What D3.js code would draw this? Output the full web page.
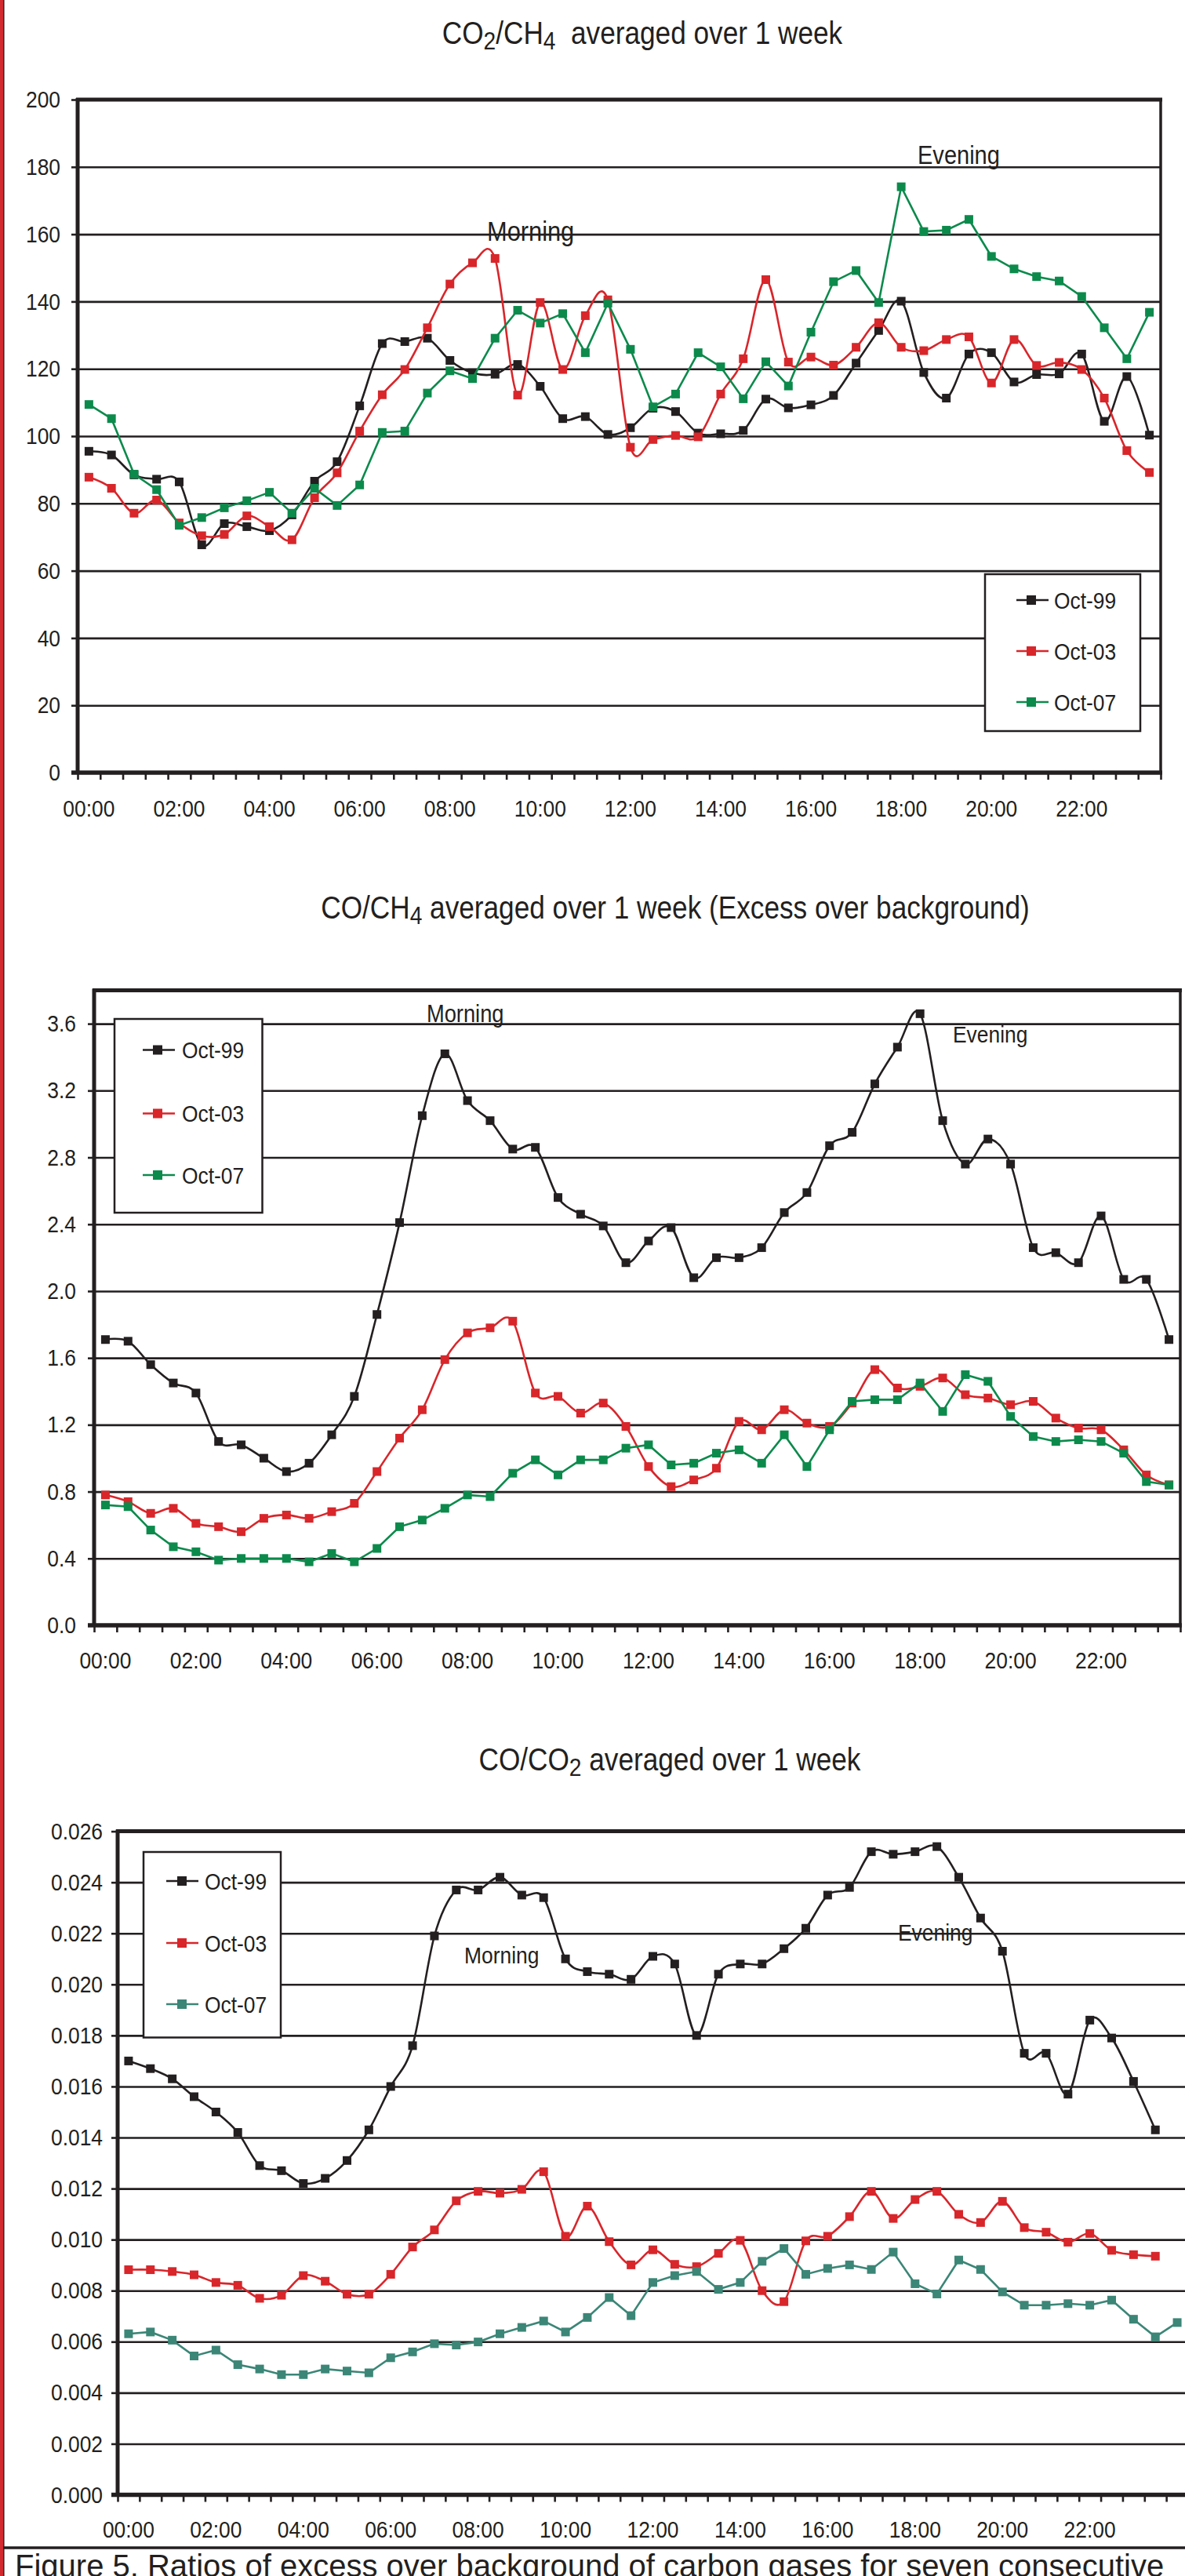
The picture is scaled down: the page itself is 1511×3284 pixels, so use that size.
<!DOCTYPE html>
<html>
<head>
<meta charset="utf-8">
<script src="https://cdn.jsdelivr.net/npm/d3@7"></script>
<style>
  body { margin: 0; background: #fff; }
  text { font-family: "Liberation Sans", Arial, Helvetica, sans-serif; fill: #231f20; }
</style>
</head>
<body>
<div id="fig"></div>
<script>
// half-hour categories (the CO/CO2 Oct-07 series has one extra point)
const times = ["00:00","00:30","01:00","01:30","02:00","02:30","03:00","03:30","04:00","04:30",
  "05:00","05:30","06:00","06:30","07:00","07:30","08:00","08:30","09:00","09:30",
  "10:00","10:30","11:00","11:30","12:00","12:30","13:00","13:30","14:00","14:30",
  "15:00","15:30","16:00","16:30","17:00","17:30","18:00","18:30","19:00","19:30",
  "20:00","20:30","21:00","21:30","22:00","22:30","23:00","23:30","24:00"];
const tickLabels = ["00:00","02:00","04:00","06:00","08:00","10:00","12:00","14:00","16:00","18:00","20:00","22:00"];
const seriesNames = ["Oct-99", "Oct-03", "Oct-07"];

// CO2/CH4
const co2ch4Ticks = [0, 20, 40, 60, 80, 100, 120, 140, 160, 180, 200];
const co2ch4_oct99 = [95.5, 94.4, 88.5, 87.2, 86.4, 67.7, 74.0, 73.1, 71.9, 76.6, 86.6, 92.4, 109.0, 127.5, 128.1, 129.1,
  122.5, 118.8, 118.4, 121.3, 114.8, 105.2, 105.8, 100.5, 102.5, 108.3, 107.3, 100.9, 100.7, 101.7, 111.0, 108.4,
  109.3, 112.1, 121.7, 131.4, 140.1, 118.9, 111.3, 124.4, 124.8, 116.1, 118.3, 118.5, 124.4, 104.4, 117.7, 100.3];
const co2ch4_oct03 = [87.8, 84.5, 77.1, 81.0, 74.2, 70.4, 70.8, 76.3, 73.1, 69.2, 81.7, 89.1, 101.5, 112.3, 119.8, 132.2,
  145.2, 151.5, 152.8, 112.2, 139.7, 119.8, 135.8, 140.5, 96.7, 99.0, 100.2, 99.8, 112.5, 123.0, 146.5, 122.0,
  123.5, 121.1, 126.4, 133.7, 126.4, 125.4, 128.7, 129.5, 115.8, 128.7, 121.0, 121.9, 119.8, 111.3, 95.7, 89.2];
const co2ch4_oct07 = [109.4, 105.2, 88.7, 84.1, 73.5, 75.8, 78.7, 80.8, 83.3, 77.1, 84.5, 79.4, 85.5, 101.1, 101.5, 112.8,
  119.4, 117.1, 129.1, 137.4, 133.6, 136.4, 124.8, 139.5, 125.8, 108.7, 112.5, 124.8, 120.6, 111.1, 122.1, 114.9,
  130.9, 145.9, 149.2, 139.7, 174.1, 160.8, 161.2, 164.4, 153.4, 149.7, 147.4, 146.1, 141.5, 132.2, 123.0, 136.8];

// CO/CH4
const coch4Ticks = [0, 0.4, 0.8, 1.2, 1.6, 2.0, 2.4, 2.8, 3.2, 3.6];
const coch4_oct99 = [1.71, 1.70, 1.56, 1.45, 1.39, 1.10, 1.08, 1.00, 0.92, 0.97, 1.14, 1.37, 1.86, 2.41, 3.05, 3.42,
  3.14, 3.02, 2.85, 2.86, 2.56, 2.46, 2.39, 2.17, 2.30, 2.38, 2.08, 2.20, 2.20, 2.26, 2.47, 2.59,
  2.87, 2.95, 3.24, 3.46, 3.66, 3.02, 2.76, 2.91, 2.76, 2.26, 2.23, 2.17, 2.45, 2.07, 2.07, 1.71];
const coch4_oct03 = [0.78, 0.74, 0.67, 0.70, 0.61, 0.59, 0.56, 0.64, 0.66, 0.64, 0.68, 0.73, 0.92, 1.12, 1.29, 1.59,
  1.75, 1.78, 1.82, 1.39, 1.37, 1.27, 1.33, 1.19, 0.95, 0.83, 0.87, 0.94, 1.22, 1.17, 1.29, 1.21,
  1.19, 1.33, 1.53, 1.42, 1.43, 1.48, 1.38, 1.36, 1.32, 1.34, 1.24, 1.18, 1.17, 1.05, 0.90, 0.84];
const coch4_oct07 = [0.72, 0.71, 0.57, 0.47, 0.44, 0.39, 0.40, 0.40, 0.40, 0.38, 0.43, 0.38, 0.46, 0.59, 0.63, 0.70,
  0.78, 0.77, 0.91, 0.99, 0.90, 0.99, 0.99, 1.06, 1.08, 0.96, 0.97, 1.03, 1.05, 0.97, 1.14, 0.95,
  1.17, 1.34, 1.35, 1.35, 1.45, 1.28, 1.50, 1.46, 1.25, 1.13, 1.10, 1.11, 1.10, 1.03, 0.86, 0.84];

// CO/CO2
const coco2Ticks = [0, 0.002, 0.004, 0.006, 0.008, 0.010, 0.012, 0.014, 0.016, 0.018, 0.020, 0.022, 0.024, 0.026];
const coco2_oct99 = [0.0170, 0.0167, 0.0163, 0.0156, 0.0150, 0.0142, 0.0129, 0.0127, 0.0122, 0.0124, 0.0131, 0.0143,
  0.0160, 0.0176, 0.0219, 0.0237, 0.0237, 0.0242, 0.0235, 0.0234, 0.0210, 0.0205, 0.0204, 0.0202,
  0.0211, 0.0208, 0.0180, 0.0204, 0.0208, 0.0208, 0.0214, 0.0222, 0.0235, 0.0238, 0.0252, 0.0251,
  0.0252, 0.0254, 0.0242, 0.0226, 0.0213, 0.0173, 0.0173, 0.0157, 0.0186, 0.0179, 0.0162, 0.0143];
const coco2_oct03 = [0.00882, 0.00882, 0.00875, 0.00862, 0.00832, 0.00821, 0.00770, 0.00782, 0.00859, 0.00837, 0.00786, 0.00786,
  0.00864, 0.00971, 0.01038, 0.01152, 0.01189, 0.01182, 0.01197, 0.01266, 0.01013, 0.01131, 0.00992, 0.00901,
  0.00960, 0.00903, 0.00894, 0.00946, 0.00997, 0.00800, 0.00757, 0.00995, 0.01013, 0.01090, 0.01189, 0.01083,
  0.01157, 0.01189, 0.01099, 0.01067, 0.01150, 0.01047, 0.01029, 0.00990, 0.01024, 0.00958, 0.00941, 0.00935];
const coco2_oct07 = [0.00631, 0.00638, 0.00606, 0.00544, 0.00567, 0.00510, 0.00493, 0.00471, 0.00471, 0.00493, 0.00485, 0.00478,
  0.00537, 0.00560, 0.00592, 0.00587, 0.00599, 0.00631, 0.00656, 0.00681, 0.00638, 0.00695, 0.00773, 0.00702,
  0.00832, 0.00859, 0.00875, 0.00805, 0.00832, 0.00915, 0.00965, 0.00864, 0.00887, 0.00901, 0.00883, 0.00951,
  0.00827, 0.00787, 0.00920, 0.00883, 0.00795, 0.00743, 0.00743, 0.00749, 0.00743, 0.00763, 0.00688, 0.00619, 0.00675];

const ink = "#231f20", red = "#d8262b", green = "#0c8a4c", teal = "#3b8677";

const svg = d3.select("#fig").append("svg")
    .attr("width", 1511)
    .attr("height", 3284);

// the figure uses a condensed Helvetica: squeeze Liberation Sans horizontally around each text's anchor
function condense(sel) {
  sel.each(function() {
    const t = d3.select(this);
    const x = +t.attr("x") || 0;
    t.attr("transform", `translate(${x},0) scale(0.88,1) translate(${-x},0)`);
  });
}

function drawChart(c) {
  const g = svg.append("g");
  const cats = times.slice(0, c.n);
  const x = d3.scaleBand().domain(cats).range([c.left, c.right]);
  const xEdge = d3.scaleLinear().domain([0, c.n]).range([c.left, c.right]);
  const y = d3.scaleLinear().domain([0, c.yMax]).range([c.bottom, c.top]);
  const cx = d => x(d) + x.bandwidth() / 2;

  // gridlines
  g.append("g")
      .attr("transform", `translate(${c.left},0)`)
      .call(d3.axisLeft(y).tickValues(c.ticks.slice(1)).tickSize(-(c.right - c.left)).tickFormat(""))
      .call(s => s.select(".domain").remove())
      .selectAll("line").attr("stroke", ink).attr("stroke-width", 2.6);

  // y axis labels + ticks
  g.append("g")
      .attr("transform", `translate(${c.left},0)`)
      .call(d3.axisLeft(y).tickValues(c.ticks).tickSize(8).tickPadding(c.yPad).tickFormat(c.fmt))
      .call(s => s.select(".domain").remove())
      .call(s => s.selectAll("line").attr("stroke", ink).attr("stroke-width", 2.6))
      .selectAll("text").attr("font-size", 30).call(condense);

  // x tick marks between categories
  g.append("g")
      .attr("transform", `translate(0,${c.bottom})`)
      .call(d3.axisBottom(xEdge).tickValues(d3.range(c.n + 1)).tickSize(9).tickFormat(""))
      .call(s => s.select(".domain").remove())
      .selectAll("line").attr("stroke", ink).attr("stroke-width", 2.6);

  // x labels
  g.append("g")
      .attr("transform", `translate(0,${c.bottom})`)
      .call(d3.axisBottom(x).tickValues(tickLabels).tickSize(0).tickPadding(c.xPad))
      .call(s => s.select(".domain").remove())
      .selectAll("text").attr("font-size", 30).call(condense);

  // plot frame
  g.append("line").attr("x1", c.left - 2).attr("x2", c.right + 2).attr("y1", c.top).attr("y2", c.top)
      .attr("stroke", ink).attr("stroke-width", 5);
  g.append("line").attr("x1", c.right).attr("x2", c.right).attr("y1", c.top).attr("y2", c.bottom)
      .attr("stroke", ink).attr("stroke-width", 3.5);
  g.append("line").attr("x1", c.left).attr("x2", c.left).attr("y1", c.top - 2).attr("y2", c.bottom + 2)
      .attr("stroke", ink).attr("stroke-width", 5);
  g.append("line").attr("x1", c.left - 8).attr("x2", c.right + 2).attr("y1", c.bottom).attr("y2", c.bottom)
      .attr("stroke", ink).attr("stroke-width", 5.5);

  // legend
  const lg = c.legend;
  g.append("rect")
      .attr("x", lg.x).attr("y", lg.y).attr("width", lg.w).attr("height", lg.h)
      .attr("fill", "#fff").attr("stroke", ink).attr("stroke-width", 2.5);
  c.series.forEach((s, i) => {
    const ry = lg.rows[i];
    g.append("line").attr("x1", lg.lx0).attr("x2", lg.lx1).attr("y1", ry).attr("y2", ry)
        .attr("stroke", s.color).attr("stroke-width", 2.6);
    g.append("rect").attr("x", lg.mx - 6).attr("y", ry - 6).attr("width", 12).attr("height", 12)
        .attr("fill", s.color);
    g.append("text").attr("x", lg.tx).attr("y", ry).attr("dy", "0.36em")
        .attr("font-size", 30).text(seriesNames[i]).call(condense);
  });

  // series
  c.series.forEach(s => {
    const line = d3.line()
        .x((d, i) => cx(cats[i]))
        .y(d => y(d))
        .curve(s.smooth ? d3.curveCardinal.tension(0) : d3.curveLinear);
    g.append("path")
        .datum(s.values)
        .attr("d", line)
        .attr("fill", "none")
        .attr("stroke", s.color)
        .attr("stroke-width", 2.6);
    g.append("g").selectAll("rect")
        .data(s.values)
        .join("rect")
        .attr("x", (d, i) => cx(cats[i]) - 5.5)
        .attr("y", d => y(d) - 5.5)
        .attr("width", 11)
        .attr("height", 11)
        .attr("fill", s.color);
  });

  // annotations
  c.notes.forEach(n => {
    g.append("text").attr("x", n.x).attr("y", n.y).attr("font-size", n.size).text(n.text).call(condense);
  });

  // title with subscripts
  const t = g.append("text")
      .attr("x", c.titleX).attr("y", c.titleY)
      .attr("text-anchor", "middle")
      .attr("font-size", c.titleSize)
      .style("white-space", "pre");
  let down = false;
  c.title.forEach(p => {
    const sp = t.append("tspan").text(p.t);
    if (p.sub) {
      sp.attr("font-size", c.titleSize * 0.8).attr("dy", down ? 0 : 7);
      down = true;
    } else if (down) {
      sp.attr("dy", -7);
      down = false;
    }
  });
  t.call(condense);
}

drawChart({
  n: 48, left: 99, right: 1480, top: 127, bottom: 985, yMax: 200,
  ticks: co2ch4Ticks, fmt: d3.format("d"), yPad: 14, xPad: 35,
  series: [
    { values: co2ch4_oct99, color: ink, smooth: true },
    { values: co2ch4_oct03, color: red, smooth: true },
    { values: co2ch4_oct07, color: green, smooth: false }
  ],
  legend: { x: 1256, y: 732, w: 198, h: 200, rows: [765, 830, 895], lx0: 1296, lx1: 1337, mx: 1315, tx: 1344 },
  notes: [
    { text: "Morning", x: 621, y: 307, size: 35 },
    { text: "Evening", x: 1170, y: 209, size: 33 }
  ],
  title: [{ t: "CO" }, { t: "2", sub: true }, { t: "/CH" }, { t: "4", sub: true }, { t: "  averaged over 1 week" }],
  titleX: 819, titleY: 56, titleSize: 40
});

drawChart({
  n: 48, left: 120, right: 1505, top: 1262.5, bottom: 2072, yMax: 3.8,
  ticks: coch4Ticks, fmt: d3.format(".1f"), yPad: 15, xPad: 34,
  series: [
    { values: coch4_oct99, color: ink, smooth: true },
    { values: coch4_oct03, color: red, smooth: true },
    { values: coch4_oct07, color: green, smooth: false }
  ],
  legend: { x: 146, y: 1299, w: 188.5, h: 247, rows: [1338.5, 1419.5, 1498], lx0: 182, lx1: 223, mx: 201, tx: 232 },
  notes: [
    { text: "Morning", x: 544, y: 1303, size: 31 },
    { text: "Evening", x: 1215, y: 1329, size: 30 }
  ],
  title: [{ t: "CO/CH" }, { t: "4", sub: true }, { t: " averaged over 1 week (Excess over background)" }],
  titleX: 861, titleY: 1171, titleSize: 40
});

drawChart({
  n: 49, left: 150, right: 1515, top: 2334.6, bottom: 3180.5, yMax: 0.026,
  ticks: coco2Ticks, fmt: d3.format(".3f"), yPad: 11, xPad: 33,
  series: [
    { values: coco2_oct99, color: ink, smooth: true },
    { values: coco2_oct03, color: red, smooth: true },
    { values: coco2_oct07, color: teal, smooth: false }
  ],
  legend: { x: 183, y: 2361, w: 175, h: 236.5, rows: [2398, 2477, 2555], lx0: 212, lx1: 253, mx: 232, tx: 261 },
  notes: [
    { text: "Morning", x: 592, y: 2503, size: 30 },
    { text: "Evening", x: 1145, y: 2474, size: 30 }
  ],
  title: [{ t: "CO/CO" }, { t: "2", sub: true }, { t: " averaged over 1 week" }],
  titleX: 854, titleY: 2257, titleSize: 40
});

// page frame: red rule on the left, caption box at the bottom
svg.append("rect").attr("x", 0).attr("y", 0).attr("width", 4).attr("height", 3284).attr("fill", "#d12a2f");
svg.append("line").attr("x1", 4.8).attr("x2", 4.8).attr("y1", 0).attr("y2", 3284)
    .attr("stroke", ink).attr("stroke-width", 1.5);
svg.append("line").attr("x1", 4).attr("x2", 1511).attr("y1", 3248).attr("y2", 3248)
    .attr("stroke", ink).attr("stroke-width", 3.5);
svg.append("text")
    .attr("x", 19).attr("y", 3285)
    .attr("font-size", 40)
    .text("Figure 5. Ratios of excess over background of carbon gases for seven consecutive");
</script>
</body>
</html>
